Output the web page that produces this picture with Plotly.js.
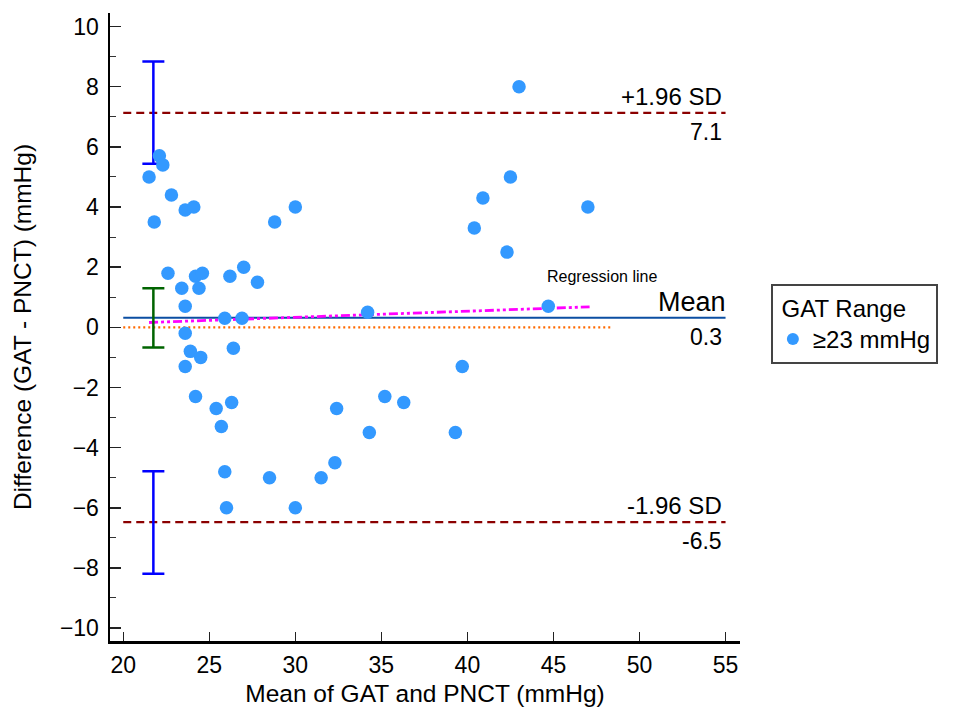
<!DOCTYPE html>
<html>
<head>
<meta charset="utf-8">
<script src="https://cdn.plot.ly/plotly-3.0.1.min.js"></script>
<style>html,body{margin:0;padding:0;background:#fff;}#chart{width:956px;height:713px;}</style>
</head>
<body>
<div id="chart"></div>
<script>
// Bland-Altman data: mean of GAT and PNCT (mmHg) vs difference (GAT - PNCT)
const meanX = [22.1, 22.3, 21.5, 22.8, 23.6, 24.1, 21.8, 28.8, 30.0,
  22.6, 23.4, 23.6, 24.2, 24.6, 24.4, 26.2, 27.0, 27.8, 25.9, 26.9, 34.2,
  23.6, 23.9, 24.5, 23.6, 26.4, 24.2, 25.4, 26.3, 25.7, 25.9, 26.0, 28.5,
  30.0, 31.5, 32.3, 32.4, 34.3, 35.2, 36.3, 39.7, 39.3,
  43.0, 42.5, 40.9, 47.0, 40.4, 42.3, 44.7];
const diffY = [5.7, 5.4, 5.0, 4.4, 3.9, 4.0, 3.5, 3.5, 4.0,
  1.8, 1.3, 0.7, 1.7, 1.8, 1.3, 1.7, 2.0, 1.5, 0.3, 0.3, 0.5,
  -0.2, -0.8, -1.0, -1.3, -0.7, -2.3, -2.7, -2.5, -3.3, -4.8, -6.0, -5.0,
  -6.0, -5.0, -4.5, -2.7, -3.5, -2.3, -2.5, -1.3, -3.5,
  8.0, 5.0, 4.3, 4.0, 3.3, 2.5, 0.7];

// Limits of agreement and mean difference
const limitNames = ["+1.96 SD", "Mean", "-1.96 SD"];
const limitValues = [7.13, 0.32, -6.48];
const limitLabels = ["7.1", "0.3", "-6.5"];
const limitX = [20, 55];

// Confidence intervals of the limits
const ciX = 21.75;
const ciLow = [5.44, -0.67, -8.19];
const ciHigh = [8.84, 1.30, -4.79];

// Regression line and zero line
const regX = [21.5, 47.1];
const regY = [0.16, 0.68];
const zeroX = [20, 48.4];
const zeroY = [0, 0];

const FONT = "Liberation Sans, Arial, sans-serif";
const traces = [];

// zero line (orange dotted)
traces.push({x: zeroX, y: zeroY, mode: "lines", showlegend: false, hoverinfo: "skip",
  line: {color: "#FF6A00", width: 2.2, dash: "2px,3px"}});
// SD lines
[0, 2].forEach(i => traces.push({x: limitX, y: [limitValues[i], limitValues[i]], mode: "lines",
  showlegend: false, hoverinfo: "skip", line: {color: "#8B0000", width: 2.2, dash: "8px,5px"}}));
// mean line
traces.push({x: limitX, y: [limitValues[1], limitValues[1]], mode: "lines", showlegend: false,
  hoverinfo: "skip", line: {color: "#0B4EA2", width: 2}});
// regression line
traces.push({x: regX, y: regY, mode: "lines", showlegend: false, hoverinfo: "skip",
  line: {color: "#FF00FF", width: 2.8, dash: "9px,3px,3px,3px,3px,3px"}});

// CI error bars
const ciColors = ["#0000FF", "#006400", "#0000FF"];
for (let i = 0; i < 3; i++) {
  const c = (ciLow[i] + ciHigh[i]) / 2;
  traces.push({x: [ciX], y: [c], mode: "markers", showlegend: false, hoverinfo: "skip",
    marker: {size: 1, opacity: 0},
    error_y: {type: "data", symmetric: false, array: [ciHigh[i] - c], arrayminus: [c - ciLow[i]],
      color: ciColors[i], thickness: 2.5, width: 11}});
}

// data points
traces.push({x: meanX, y: diffY, mode: "markers", name: "≥23 mmHg",
  marker: {color: "#3399FF", size: 13.5, line: {width: 0}}});

const annotations = [];
for (let i = 0; i < 3; i++) {
  annotations.push({x: 55, y: limitValues[i], xref: "x", yref: "y", text: limitNames[i],
    showarrow: false, xanchor: "right", yanchor: "bottom", yshift: i === 1 ? -1 : 1,
    xshift: i === 1 ? 2 : -2,
    font: {family: FONT, size: i === 1 ? 27 : 24, color: "#000"}});
  annotations.push({x: 55, y: limitValues[i], xref: "x", yref: "y", text: limitLabels[i],
    showarrow: false, xanchor: "right", yanchor: "top", yshift: -4, xshift: -2,
    font: {family: FONT, size: 23, color: "#000"}});
}
annotations.push({x: 47.8, y: 1.69, xref: "x", yref: "y", text: "Regression line",
  showarrow: false, xanchor: "center", yanchor: "middle",
  font: {family: FONT, size: 16, color: "#000"}});

const layout = {
  width: 956, height: 713,
  margin: {l: 110, r: 216, t: 13, b: 72},
  paper_bgcolor: "#fff", plot_bgcolor: "#fff",
  font: {family: FONT, color: "#000"},
  showlegend: true,
  legend: {x: 1.049, y: 0.569, xanchor: "left", yanchor: "top",
    bordercolor: "#444", borderwidth: 2, bgcolor: "#fff",
    title: {text: "\u00A0GAT Range", font: {family: FONT, size: 24}},
    font: {family: FONT, size: 24}, itemsizing: "constant", tracegroupgap: 0},
  xaxis: {range: [19.23, 55.84], tickvals: [20, 25, 30, 35, 40, 45, 50, 55],
    ticks: "inside", ticklen: 9, tickwidth: 1.5, tickcolor: "#222",
    showline: true, linewidth: 2.5, linecolor: "#000", showgrid: false, zeroline: false,
    tickfont: {family: FONT, size: 23}, ticklabelstandoff: 2,
    title: {text: "Mean of GAT and PNCT (mmHg)", font: {family: FONT, size: 24.5}, standoff: 8}},
  yaxis: {range: [-10.43, 10.45], tickvals: [-10, -8, -6, -4, -2, 0, 2, 4, 6, 8, 10],
    ticks: "inside", ticklen: 11, tickwidth: 1.5, tickcolor: "#222",
    minor: {tickvals: [-9, -7, -5, -3, -1, 1, 3, 5, 7, 9], ticks: "inside", ticklen: 6, tickwidth: 1, tickcolor: "#333", showgrid: false},
    showline: true, linewidth: 2.5, linecolor: "#000", showgrid: false, zeroline: false,
    tickfont: {family: FONT, size: 23}, ticklabelstandoff: 4,
    title: {text: "Difference (GAT - PNCT) (mmHg)", font: {family: FONT, size: 24.5}, standoff: 22}},
  annotations: annotations
};

Plotly.newPlot("chart", traces, layout, {displayModeBar: false, staticPlot: true});
</script>
</body>
</html>
